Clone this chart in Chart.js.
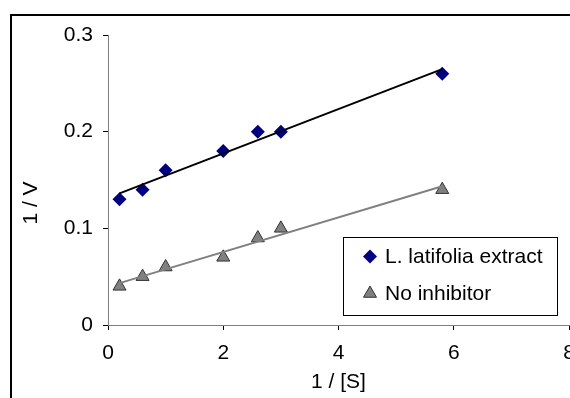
<!DOCTYPE html>
<html>
<head>
<meta charset="utf-8">
<script src="https://cdn.jsdelivr.net/npm/chart.js@4.4.0/dist/chart.umd.min.js"></script>
<style>
  html, body { margin: 0; padding: 0; background: #fff; overflow: hidden; width: 570px; height: 398px; }
  #wrap { position: absolute; left: 0; top: 0; width: 640px; height: 430px; }
</style>
</head>
<body>
<div id="wrap"><canvas id="lbChart" width="640" height="430"></canvas></div>
<script>
// Lineweaver-Burk data
const invS = [0.2, 0.6, 1, 2, 2.6, 3, 5.8];
const extractInvV = [0.13, 0.14, 0.16, 0.18, 0.20, 0.20, 0.26];
const noInhibitorInvV = [0.04, 0.05, 0.06, 0.07, 0.09, 0.10, 0.14];
const xTicks = [0, 2, 4, 6, 8];
const yTicks = [0, 0.1, 0.2, 0.3];
const seriesNames = ['L. latifolia extract', 'No inhibitor'];
const xTitle = '1 / [S]';
const yTitle = '1 / V';

const FONT = 'Liberation Sans, Arial, sans-serif';

// least squares trendline, like the spreadsheet's linear trendline
function trend(xs, ys) {
    const n = xs.length;
    const mx = xs.reduce((a, b) => a + b, 0) / n;
    const my = ys.reduce((a, b) => a + b, 0) / n;
    let sxy = 0, sxx = 0;
    for (let i = 0; i < n; i++) {
        sxy += (xs[i] - mx) * (ys[i] - my);
        sxx += (xs[i] - mx) * (xs[i] - mx);
    }
    const k = sxy / sxx, b = my - k * mx;
    const x0 = Math.min(...xs), x1 = Math.max(...xs);
    return [{ x: x0, y: k * x0 + b }, { x: x1, y: k * x1 + b }];
}

const pts = ys => invS.map((x, i) => ({ x, y: ys[i] }));

// outer frame (only left and top edges are inside the window) + y title
const framePlugin = {
    id: 'frame',
    afterDraw(chart) {
        const ctx = chart.ctx;
        ctx.save();
        ctx.strokeStyle = '#000';
        ctx.lineWidth = 2;
        ctx.beginPath();
        ctx.moveTo(11, chart.height);
        ctx.lineTo(11, 15);
        ctx.lineTo(chart.width, 15);
        ctx.stroke();

        // y title sits a bit below the plot middle in the original
        ctx.translate(31, chart.chartArea.top + (chart.chartArea.bottom - chart.chartArea.top) / 2 + 23);
        ctx.rotate(-Math.PI / 2);
        ctx.font = '21px ' + FONT;
        ctx.fillStyle = '#000';
        ctx.textAlign = 'center';
        ctx.textBaseline = 'middle';
        ctx.fillText(yTitle, 0, 0);
        ctx.restore();
    }
};

// legend box inside the plot
const legendPlugin = {
    id: 'boxLegend',
    afterDraw(chart) {
        const ctx = chart.ctx;
        const bx = 343.5, by = 237.5, bw = 214, bh = 78;
        ctx.save();
        ctx.fillStyle = '#fff';
        ctx.fillRect(bx, by, bw, bh);
        ctx.strokeStyle = '#000';
        ctx.lineWidth = 1;
        ctx.strokeRect(bx, by, bw, bh);
        ctx.font = '21px ' + FONT;
        ctx.textBaseline = 'middle';
        const rows = [by + 19, by + 56];
        [0, 1].forEach(i => {
            const ds = chart.data.datasets[i];
            ctx.fillStyle = ds.pointBackgroundColor;
            ctx.strokeStyle = ds.pointBorderColor;
            ctx.lineWidth = ds.pointBorderWidth;
            Chart.helpers.drawPoint(ctx, {
                pointStyle: ds.pointStyle,
                radius: ds.pointRadius,
                borderWidth: ds.pointBorderWidth
            }, 370, rows[i]);
            ctx.fillStyle = '#000';
            ctx.fillText(seriesNames[i], 385, rows[i] + 1);
        });
        ctx.restore();
    }
};

new Chart(document.getElementById('lbChart').getContext('2d'), {
    type: 'scatter',
    data: {
        datasets: [
            {
                label: seriesNames[0],
                data: pts(extractInvV),
                pointStyle: 'rectRot',
                pointRadius: 7,
                pointBackgroundColor: '#000080',
                pointBorderColor: '#000080',
                pointBorderWidth: 0,
                order: 1
            },
            {
                label: seriesNames[1],
                data: pts(noInhibitorInvV),
                pointStyle: 'triangle',
                pointRadius: 7.5,
                pointBackgroundColor: '#808080',
                pointBorderColor: '#333333',
                pointBorderWidth: 1,
                order: 1
            },
            {
                label: 'trend1',
                data: trend(invS, extractInvV),
                showLine: true,
                borderColor: '#000',
                borderWidth: 2,
                pointRadius: 0,
                order: 0
            },
            {
                label: 'trend2',
                data: trend(invS, noInhibitorInvV),
                showLine: true,
                borderColor: '#808080',
                borderWidth: 2,
                pointRadius: 0,
                order: 0
            }
        ]
    },
    options: {
        responsive: false,
        animation: false,
        layout: { padding: { left: 0, top: 35, right: 71, bottom: 35 } },
        plugins: {
            legend: { display: false },
            tooltip: { enabled: false }
        },
        scales: {
            x: {
                type: 'linear',
                min: 0, max: 8,
                afterBuildTicks: s => { s.ticks = xTicks.map(v => ({ value: v })); },
                afterFit: s => { s.height = 70; },
                grid: { drawOnChartArea: false, drawTicks: true, tickLength: 5, color: '#000' },
                border: { color: '#808080', width: 1 },
                ticks: { color: '#000', font: { family: FONT, size: 21 }, padding: 11, maxRotation: 0 },
                title: { display: true, text: xTitle, color: '#000', font: { family: FONT, size: 21 }, padding: { top: 0, bottom: 0 } }
            },
            y: {
                type: 'linear',
                min: 0, max: 0.3,
                afterBuildTicks: s => { s.ticks = yTicks.map(v => ({ value: v })); },
                afterFit: s => { s.width = 108; },
                grid: { drawOnChartArea: false, drawTicks: true, tickLength: 5, color: '#000' },
                border: { color: '#808080', width: 1 },
                ticks: { color: '#000', font: { family: FONT, size: 21 }, padding: 10,
                         callback: v => String(Math.round(v * 10) / 10) }
            }
        }
    },
    plugins: [framePlugin, legendPlugin]
});
</script>
</body>
</html>
